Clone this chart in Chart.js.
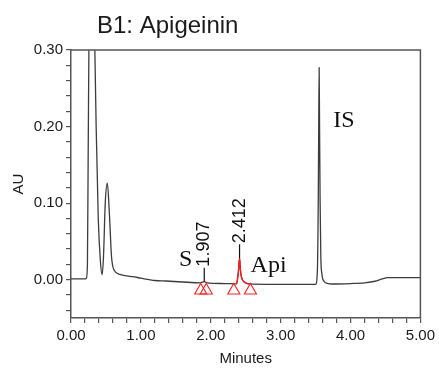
<!DOCTYPE html>
<html>
<head>
<meta charset="utf-8">
<script src="https://cdn.jsdelivr.net/npm/chart.js@4"></script>
<style>
  html, body { margin: 0; padding: 0; background: #ffffff; }
  #wrap { width: 439px; height: 371px; }
</style>
</head>
<body>
<div id="wrap"><canvas id="c" width="439" height="371"></canvas></div>
<script>
// ---- data ----
const chartTitle = 'B1: Apigeinin';
const xAxisTitle = 'Minutes';
const yAxisTitle = 'AU';

// retention time (minutes)
const timeMin = [0.00, 0.10, 0.20, 0.22, 0.235, 0.245, 0.26, 0.30, 0.33, 0.36, 0.39, 0.42, 0.445,
  0.465, 0.49, 0.52, 0.55, 0.58, 0.62, 0.70, 0.80, 0.885, 1.00, 1.20, 1.36, 1.60, 1.85, 1.907, 1.95,
  2.20, 2.37, 2.395, 2.412, 2.425, 2.44, 2.48, 2.55, 2.80, 3.10, 3.44, 3.50, 3.525, 3.538, 3.545,
  3.551, 3.557, 3.565, 3.575, 3.59, 3.62, 3.68, 3.73, 4.00, 4.20, 4.35, 4.45, 4.53, 4.75, 5.00];
// absorbance (AU)
const absorbanceAU = [0.001, 0.001, 0.001, 0.002, 0.02, 0.15, 0.35, 0.55, 0.36, 0.20, 0.08, 0.025, 0.0065,
  0.03, 0.10, 0.126, 0.085, 0.03, 0.012, 0.007, 0.005, 0.004, 0.002, -0.001, -0.0017, -0.003, -0.004, -0.0025, -0.004,
  -0.005, -0.0055, 0.01, 0.028, 0.012, 0.003, -0.003, -0.0055, -0.006, -0.006, -0.006, -0.006, 0.01, 0.1, 0.2,
  0.277, 0.2, 0.1, 0.03, 0.008, -0.002, -0.005, -0.0056, -0.005, -0.004, -0.002, 0.001, 0.0026, 0.0026, 0.0026];

// integrated Api peak window (drawn red)
const apiStart = 2.37;
const apiEnd = 2.55;

// peak start / end markers (red triangles)
const markerTimes = [1.857, 1.936, 2.33, 2.567];
const markerAU = [-0.014, -0.014, -0.014, -0.014];

// peak annotations
const peakNames = ['S', 'Api', 'IS'];
const peakTimes = [1.907, 2.412, 3.551];
const retentionLabels = ['1.907', '2.412'];

// axis ticks
const xTicks = [0, 0.2, 0.4, 0.6, 0.8, 1.0, 1.2, 1.4, 1.6, 1.8, 2.0, 2.2, 2.4, 2.6, 2.8, 3.0,
  3.2, 3.4, 3.6, 3.8, 4.0, 4.2, 4.4, 4.6, 4.8, 5.0];
const xLabelTicks = [0, 1, 2, 3, 4, 5];
const yTicks = [-0.04, -0.02, 0.00, 0.02, 0.04, 0.06, 0.08, 0.10, 0.12, 0.14, 0.16, 0.18, 0.20,
  0.22, 0.24, 0.26, 0.28, 0.30];
const yLabelTicks = [0.00, 0.10, 0.20, 0.30];

// ---- build chart ----
const tracePoints = timeMin.map((t, i) => ({ x: t, y: absorbanceAU[i] }));
const apiPoints = tracePoints.filter(p => p.x >= apiStart && p.x <= apiEnd);
const markerPoints = markerTimes.map((t, i) => ({ x: t, y: markerAU[i] }));

function isLabelTick(v, list) { return list.some(l => Math.abs(l - v) < 1e-6); }
function auAt(t) {
  const i = timeMin.findIndex(v => Math.abs(v - t) < 1e-6);
  return i >= 0 ? absorbanceAU[i] : 0;
}

const frameColor = '#555555';
const textColor = '#1a1a1a';

const annotationPlugin = {
  id: 'annotations',
  afterDatasetsDraw(chart) {
    const { ctx, chartArea, scales } = chart;
    const xs = scales.x, ys = scales.y;
    ctx.save();
    // top & right frame
    ctx.strokeStyle = frameColor;
    ctx.lineWidth = 1.5;
    ctx.beginPath();
    ctx.moveTo(chartArea.left, chartArea.top);
    ctx.lineTo(chartArea.right, chartArea.top);
    ctx.lineTo(chartArea.right, chartArea.bottom);
    ctx.stroke();

    // retention time labels with leader lines
    retentionLabels.forEach((lab, i) => {
      const t = peakTimes[i];
      const px = xs.getPixelForValue(t);
      const apex = ys.getPixelForValue(auAt(t));
      const top = apex - 14;
      ctx.strokeStyle = '#111111';
      ctx.lineWidth = 1.2;
      ctx.beginPath();
      ctx.moveTo(px, apex);
      ctx.lineTo(px, top);
      ctx.stroke();
      ctx.save();
      ctx.translate(px, top - 1);
      ctx.rotate(-Math.PI / 2);
      ctx.fillStyle = '#111111';
      ctx.font = '18px "Liberation Sans", Arial, sans-serif';
      ctx.textAlign = 'left';
      ctx.textBaseline = 'middle';
      ctx.fillText(lab, 0, 0);
      ctx.restore();
    });

    // peak names (serif)
    ctx.fillStyle = '#111111';
    ctx.font = '24px "Liberation Serif", "Times New Roman", serif';
    ctx.textBaseline = 'alphabetic';
    // S : left of its retention line
    ctx.textAlign = 'right';
    ctx.fillText(peakNames[0], xs.getPixelForValue(peakTimes[0]) - 12, ys.getPixelForValue(0) - 14);
    // Api : right of its peak
    ctx.textAlign = 'left';
    ctx.fillText(peakNames[1], xs.getPixelForValue(peakTimes[1]) + 11, ys.getPixelForValue(0) - 8);
    // IS : right of the tall peak
    ctx.fillText(peakNames[2], xs.getPixelForValue(peakTimes[2]) + 14, ys.getPixelForValue(0.20));

    // chart title
    ctx.fillStyle = textColor;
    ctx.font = '24px "Liberation Sans", Arial, sans-serif';
    ctx.textAlign = 'left';
    ctx.fillText(chartTitle, 97, 33);
    ctx.restore();
  }
};

new Chart(document.getElementById('c'), {
  type: 'line',
  data: {
    datasets: [
      {
        label: 'trace',
        data: tracePoints,
        borderColor: '#3c3c3c',
        borderWidth: 1.3,
        pointRadius: 0,
        cubicInterpolationMode: 'monotone',
        order: 3
      },
      {
        label: 'Api peak',
        data: apiPoints,
        borderColor: '#ff1a1a',
        borderWidth: 1.3,
        pointRadius: 0,
        cubicInterpolationMode: 'monotone',
        order: 2
      },
      {
        label: 'markers',
        data: markerPoints,
        showLine: false,
        pointStyle: 'triangle',
        pointRadius: 7,
        pointBorderColor: '#ff2020',
        pointBackgroundColor: 'rgba(255,255,255,0)',
        pointBorderWidth: 1.1,
        clip: false,
        order: 1
      }
    ]
  },
  options: {
    responsive: false,
    devicePixelRatio: 1,
    animation: false,
    layout: { padding: { top: 50, right: 16, left: 0, bottom: 0 } },
    plugins: { legend: { display: false }, tooltip: { enabled: false }, title: { display: false } },
    scales: {
      x: {
        type: 'linear',
        min: 0, max: 5,
        afterBuildTicks(scale) { scale.ticks = xTicks.map(v => ({ value: v })); },
        afterFit(scale) { scale.height = 53; },
        ticks: {
          autoSkip: false, maxRotation: 0, padding: 4, color: textColor,
          font: { family: '"Liberation Sans", Arial, sans-serif', size: 15 },
          callback: v => isLabelTick(v, xLabelTicks) ? Number(v).toFixed(2) : ''
        },
        grid: { drawOnChartArea: false, drawTicks: true, tickLength: 5, color: frameColor, lineWidth: 1.2 },
        border: { display: true, color: frameColor, width: 1.5 },
        title: {
          display: true, text: xAxisTitle, color: textColor, padding: { top: 0, bottom: 3 },
          font: { family: '"Liberation Sans", Arial, sans-serif', size: 15 }
        }
      },
      y: {
        type: 'linear',
        min: -0.05, max: 0.30,
        afterBuildTicks(scale) { scale.ticks = yTicks.map(v => ({ value: v })); },
        afterFit(scale) { scale.width = 71; },
        ticks: {
          autoSkip: false, padding: 3, color: textColor,
          font: { family: '"Liberation Sans", Arial, sans-serif', size: 15 },
          callback: v => isLabelTick(v, yLabelTicks) ? Number(v).toFixed(2) : ''
        },
        grid: { drawOnChartArea: false, drawTicks: true, tickLength: 5, color: frameColor, lineWidth: 1.2 },
        border: { display: true, color: frameColor, width: 1.5 },
        title: {
          display: true, text: yAxisTitle, color: textColor, padding: { top: 10, bottom: 0 },
          font: { family: '"Liberation Sans", Arial, sans-serif', size: 15 }
        }
      }
    }
  },
  plugins: [annotationPlugin]
});
</script>
</body>
</html>
